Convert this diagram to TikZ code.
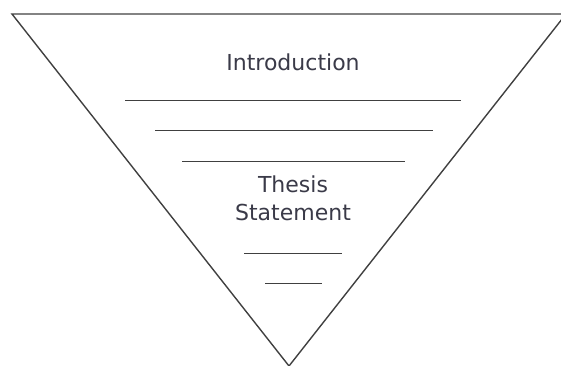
\documentclass[tikz,border=0pt]{standalone}
\usepackage{fontspec}
\setsansfont{DejaVu Sans}
\definecolor{ink}{HTML}{3A3A48}
\definecolor{rim}{HTML}{404040}
\begin{document}
\begin{tikzpicture}[x=1pt, y=-1pt]
    \useasboundingbox (0,0) rectangle (561,365);
    \draw[rim, line width=1.4pt, line join=miter] (12,14) -- (566,14) -- (289,366) -- cycle;
    \node[text=ink, font=\sffamily\fontsize{22}{26}\selectfont] (intro) at (293,62) {Introduction};
    \draw[rim, line width=1pt] (125,100) -- (461,100);
    \draw[rim, line width=1pt] (155,130) -- (433,130);
    \draw[rim, line width=1pt] (182,161) -- (405,161);
    \node[text=ink, font=\sffamily\fontsize{22}{26}\selectfont] (thesis) at (293,184) {Thesis};
    \node[text=ink, font=\sffamily\fontsize{22}{26}\selectfont] (statement) at (293,212) {Statement};
    \draw[rim, line width=1pt] (244,253) -- (342,253);
    \draw[rim, line width=1pt] (265,283) -- (322,283);
\end{tikzpicture}
\end{document}
